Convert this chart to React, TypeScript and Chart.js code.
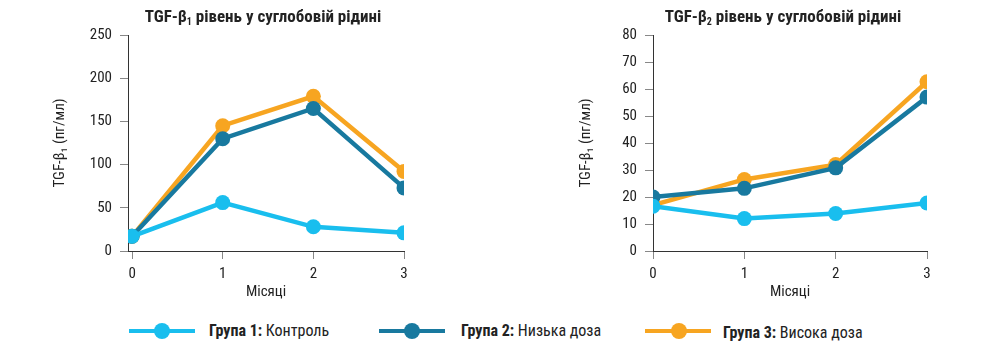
import React, { useEffect, useRef } from 'react';
import { Chart, registerables } from 'chart.js';

Chart.register(...registerables);

const months = [0, 1, 2, 3];
const tgfb1Control = [17, 56, 28, 21];
const tgfb1Low = [17, 130, 165, 73];
const tgfb1High = [17, 145, 179, 92];
const tgfb2Control = [16.6, 12, 13.9, 17.8];
const tgfb2Low = [20, 23.2, 30.8, 57];
const tgfb2High = [17, 26.5, 32, 62.7];
const tgfb1Ticks = [0, 50, 100, 150, 200, 250];
const tgfb2Ticks = [0, 10, 20, 30, 40, 50, 60, 70, 80];
const groupLabels = ['Група 1:', 'Група 2:', 'Група 3:'];
const groupNames = ['Контроль', 'Низька доза', 'Висока доза'];
const colors = ['#19BEEE', '#18799F', '#F7A521'];

const FONT = "'Liberation Sans Narrow', 'Roboto Condensed', 'Arial Narrow', Roboto, 'Liberation Sans', sans-serif";
const TEXT = '#222222';
const AXIS = '#333333';
const TICK = '#888888';

type Cfg = {
  series: number[][];
  yTicks: number[];
  xMin: number;
  padRight: number;
  axisWidth: number;
  yTitlePad: number;
};

function LineChart({ cfg, left }: { cfg: Cfg; left: number }) {
  const ref = useRef<HTMLCanvasElement | null>(null);
  useEffect(() => {
    if (!ref.current) return;
    const font = { family: FONT, size: 15 };
    const chart = new Chart(ref.current, {
      type: 'line',
      data: {
        datasets: cfg.series.map((vals, i) => ({
          label: groupNames[i],
          data: months.map((m, j) => ({ x: m, y: vals[j] })),
          borderColor: colors[i],
          backgroundColor: colors[i],
          pointBackgroundColor: colors[i],
          pointBorderWidth: 0,
          pointRadius: 7.5,
          borderWidth: 4.5,
          tension: 0,
        })),
      },
      options: {
        animation: false,
        responsive: false,
        maintainAspectRatio: false,
        layout: { padding: { left: 0, right: cfg.padRight, top: 35, bottom: 0 } },
        plugins: {
          legend: { display: false },
          title: { display: false },
          tooltip: { enabled: false },
        },
        scales: {
          x: {
            type: 'linear',
            min: cfg.xMin,
            max: 3,
            afterBuildTicks: (s: any) => {
              s.ticks = months.map((v) => ({ value: v }));
            },
            afterFit: (s: any) => {
              s.height = 59;
            },
            grid: { display: true, drawOnChartArea: false, drawTicks: true, tickLength: 8, color: TICK },
            border: { display: true, color: AXIS, width: 1 },
            ticks: { font, color: TEXT, padding: 6, maxRotation: 0, autoSkip: false },
            title: { display: true, text: 'Місяці', font, color: TEXT, padding: { top: 0, bottom: 9 } },
          },
          y: {
            type: 'linear',
            min: 0,
            max: cfg.yTicks[cfg.yTicks.length - 1],
            afterBuildTicks: (s: any) => {
              s.ticks = cfg.yTicks.map((v) => ({ value: v }));
            },
            afterFit: (s: any) => {
              s.width = cfg.axisWidth;
            },
            grid: { display: true, drawOnChartArea: false, drawTicks: true, tickLength: 8, color: TICK },
            border: { display: true, color: AXIS, width: 1 },
            ticks: { font, color: TEXT, padding: 8, autoSkip: false },
            title: {
              display: true,
              text: 'TGF-β₁ (пг/мл)',
              font,
              color: TEXT,
              padding: { top: cfg.yTitlePad, bottom: 0 },
            },
          },
        },
      },
    } as any);
    return () => chart.destroy();
  }, []);
  return (
    <canvas
      ref={ref}
      width={493}
      height={310}
      style={{ position: 'absolute', left, top: 0, width: 493, height: 310 }}
    />
  );
}

function Title({ center, sub }: { center: number; sub: string }) {
  return (
    <div
      style={{
        position: 'absolute',
        left: center - 200,
        width: 400,
        top: 5,
        textAlign: 'center',
        fontFamily: FONT,
        fontWeight: 'bold',
        fontSize: 17,
        lineHeight: '22px',
        color: TEXT,
        whiteSpace: 'nowrap',
      }}
    >
      TGF-β<sub style={{ fontSize: 10, verticalAlign: '-3px' }}>{sub}</sub> рівень у суглобовій рідині
    </div>
  );
}

const legendPos = [
  { line: 129, circle: 162, text: 209, dy: 0 },
  { line: 379, circle: 412, text: 461, dy: 0 },
  { line: 645, circle: 679, text: 723, dy: 2 },
];

function Legend() {
  return (
    <>
      {legendPos.map((p, i) => (
        <React.Fragment key={i}>
          <div style={{ position: 'absolute', left: p.line, top: 329, width: 66, height: 4, background: colors[i] }} />
          <div
            style={{
              position: 'absolute',
              left: p.circle - 8,
              top: 323,
              width: 16,
              height: 16,
              borderRadius: 8,
              background: colors[i],
            }}
          />
          <div
            style={{
              position: 'absolute',
              left: p.text,
              top: 321 + p.dy,
              fontFamily: FONT,
              fontSize: 16,
              lineHeight: '20px',
              color: TEXT,
              whiteSpace: 'nowrap',
            }}
          >
            <b>{groupLabels[i]}</b> {groupNames[i]}
          </div>
        </React.Fragment>
      ))}
    </>
  );
}

export default function App() {
  const left: Cfg = {
    series: [tgfb1Control, tgfb1Low, tgfb1High],
    yTicks: tgfb1Ticks,
    xMin: -0.045,
    padRight: 89,
    axisWidth: 128,
    yTitlePad: 51,
  };
  const right: Cfg = {
    series: [tgfb2Control, tgfb2Low, tgfb2High],
    yTicks: tgfb2Ticks,
    xMin: 0,
    padRight: 59,
    axisWidth: 160,
    yTitlePad: 84,
  };
  return (
    <div style={{ position: 'absolute', left: 0, top: 0, width: 986, height: 354, background: '#fff', overflow: 'hidden' }}>
      <LineChart cfg={left} left={0} />
      <LineChart cfg={right} left={493} />
      <Title center={263} sub="1" />
      <Title center={783} sub="2" />
      <Legend />
    </div>
  );
}
